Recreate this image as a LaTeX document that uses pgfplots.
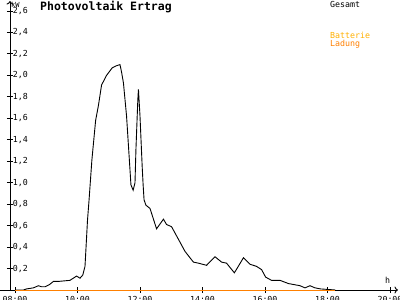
\documentclass[border=0pt]{standalone}
\usepackage{fontspec}
\setmainfont{DejaVu Sans Mono}
\usepackage{pgfplots}
\pgfplotsset{compat=1.18}
\usetikzlibrary{arrows.meta}
\definecolor{ladung}{RGB}{255,128,0}
\definecolor{batterie}{RGB}{255,176,0}
\begin{document}
\begin{tikzpicture}
\useasboundingbox (0,0) rectangle (400pt,300pt);
\fill[white] (0,0) rectangle (400pt,300pt);
\begin{axis}[
  at={(10pt,10pt)}, anchor=south west,
  scale only axis, width=388pt, height=289pt,
  xmin=7.84, xmax=20.256, ymin=0, ymax=2.693,
  axis x line*=bottom, axis y line*=left,
  axis line style={line width=0.9pt, -{To[length=3.5pt,width=7pt]}},
  tick align=center, major tick length=6pt,
  tick style={black, line width=0.9pt},
  xtick={8,10,12,14,16,18,20},
  xticklabels={08:00,10:00,12:00,14:00,16:00,18:00,20:00},
  ytick={0.2,0.4,0.6,0.8,1.0,1.2,1.4,1.6,1.8,2.0,2.2,2.4,2.6},
  ticklabel style={font=\fontsize{8.3}{9}\selectfont},
  yticklabel style={anchor=west, xshift=2.3pt,
    /pgf/number format/.cd, fixed, fixed zerofill, precision=1, use comma, assume math mode=true},
  xticklabel style={anchor=north, yshift=0.5pt},
  clip=false,
]
\addplot[black, line width=0.9pt] coordinates {
(8.0,0) (8.27,0) (8.37,0.01) (8.59,0.02) (8.75,0.04) (8.85,0.03) (8.96,0.03)
(9.1,0.05) (9.23,0.08) (9.39,0.08) (9.76,0.09) (9.97,0.13) (10.08,0.11)
(10.17,0.14) (10.24,0.22) (10.32,0.65) (10.37,0.84) (10.46,1.21) (10.58,1.58)
(10.67,1.72) (10.77,1.91) (10.93,2.00) (11.11,2.07) (11.25,2.09) (11.36,2.10)
(11.41,2.03) (11.47,1.93) (11.57,1.62) (11.66,1.21) (11.71,0.98) (11.78,0.93)
(11.84,1.00) (11.87,1.31) (11.93,1.77) (11.95,1.87) (12.00,1.62) (12.07,1.15)
(12.10,0.98) (12.13,0.84) (12.19,0.79) (12.32,0.76) (12.53,0.57) (12.75,0.66)
(12.85,0.61) (13.01,0.59) (13.44,0.36) (13.60,0.30) (13.71,0.26) (13.87,0.25)
(14.13,0.23) (14.40,0.31) (14.61,0.26) (14.77,0.25) (15.02,0.16) (15.31,0.30)
(15.52,0.24) (15.73,0.22) (15.89,0.19) (16.02,0.12) (16.21,0.09) (16.48,0.09)
(16.75,0.06) (17.12,0.04) (17.28,0.02) (17.44,0.04) (17.60,0.02) (17.78,0.01)
(18.25,0)
};
\addplot[ladung, line width=0.9pt] coordinates {(8,0) (18.25,0)};
\draw[black, line width=0.9pt] (axis cs:7.5,0) -- (axis cs:7.84,0);
\end{axis}
\node[anchor=base west, inner sep=0pt, font=\bfseries\fontsize{11.5}{12}\selectfont] at (40pt,289pt) {Photovoltaik Ertrag};
\node[anchor=base west, inner sep=0pt, font=\fontsize{7}{8}\selectfont] at (11pt,292pt) {kW};
\node[anchor=base west, inner sep=0pt, font=\fontsize{8.3}{9}\selectfont] at (330pt,292pt) {Gesamt};
\node[anchor=base west, inner sep=0pt, text=batterie, font=\fontsize{8.3}{9}\selectfont] at (330pt,261pt) {Batterie};
\node[anchor=base west, inner sep=0pt, text=ladung, font=\fontsize{8.3}{9}\selectfont] at (330pt,253pt) {Ladung};
\node[anchor=base west, inner sep=0pt, font=\fontsize{8.3}{9}\selectfont] at (385pt,16.5pt) {h};
\end{tikzpicture}
\end{document}
